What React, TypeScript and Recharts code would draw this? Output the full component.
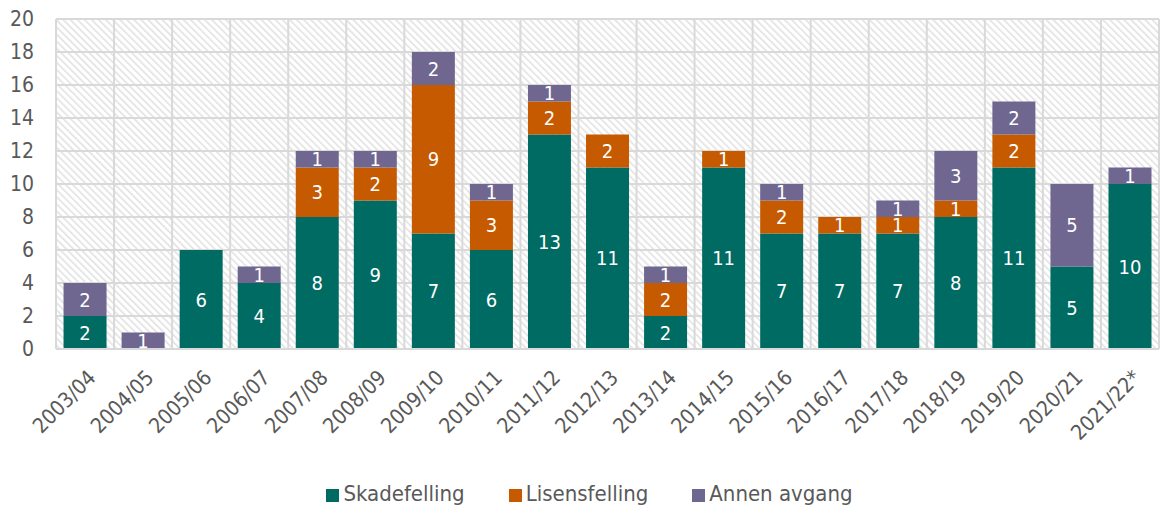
import React from 'react';
import { BarChart, Bar, XAxis, YAxis, CartesianGrid, Legend, LabelList } from 'recharts';

const categories = ['2003/04','2004/05','2005/06','2006/07','2007/08','2008/09','2009/10','2010/11','2011/12','2012/13','2013/14','2014/15','2015/16','2016/17','2017/18','2018/19','2019/20','2020/21','2021/22*'];
const skadefelling = [2,0,6,4,8,9,7,6,13,11,2,11,7,7,7,8,11,5,10];
const lisensfelling = [0,0,0,0,3,2,9,3,2,2,2,1,2,1,1,1,2,0,0];
const annenAvgang = [2,1,0,1,1,1,2,1,1,0,1,0,1,0,1,3,2,5,1];
const yTicks = [0,2,4,6,8,10,12,14,16,18,20];

const seriesNames = ['Skadefelling', 'Lisensfelling', 'Annen avgang'];
const seriesColors = ['#006b63', '#c55a00', '#6f6790'];

const nz = (v: number) => (v === 0 ? null : v);
const data = categories.map((c, i) => ({
  cat: c,
  skade: nz(skadefelling[i]),
  lisens: nz(lisensfelling[i]),
  annen: nz(annenAvgang[i]),
}));

const FONT = '"DejaVu Sans Condensed", "DejaVu Sans", sans-serif';
const TEXT = '#595959';

const XTick = (props: any) => {
  const { x, y, payload } = props;
  const ax = x + 12;
  const ay = y + 22;
  return (
    <text
      x={ax}
      y={ay}
      transform={`rotate(-45, ${ax}, ${ay})`}
      textAnchor="end"
      fill={TEXT}
      fontSize={21}
      fontFamily={FONT}
    >
      {payload.value}
    </text>
  );
};

const LegendContent = () => (
  <div style={{ display: 'flex', justifyContent: 'center', gap: 44, fontFamily: FONT, fontSize: 22, color: TEXT, lineHeight: '24px', paddingLeft: 20, paddingTop: 6 }}>
    {seriesNames.map((n, i) => (
      <div key={n} style={{ display: 'flex', alignItems: 'center' }}>
        <span style={{ display: 'inline-block', width: 13, height: 13, background: seriesColors[i], marginRight: 4, marginTop: 3 }} />
        <span>{n}</span>
      </div>
    ))}
  </div>
);

export default function App() {
  return (
    <div style={{ position: 'absolute', left: 0, top: 0, width: 1160, height: 506, background: '#fff' }}>
      <svg width={0} height={0} style={{ position: 'absolute' }}>
        <defs>
          <pattern id="hatch" patternUnits="userSpaceOnUse" width={5} height={5} patternTransform="rotate(-45)">
            <rect x={0} y={0} width={5} height={5} fill="#ffffff" />
            <line x1={0} y1={0} x2={0} y2={5} stroke="#e0e0e0" strokeWidth={3} />
          </pattern>
        </defs>
      </svg>
      <BarChart
        width={1160}
        height={506}
        data={data}
        margin={{ top: 19, right: 1, left: 0, bottom: 0 }}
        barCategoryGap="13%"
      >
        <CartesianGrid
          fill="url(#hatch)"
          stroke="#d9d9d9"
          strokeWidth={2}
          verticalCoordinatesGenerator={({ offset }: any) =>
            categories.map((_, i) => offset.left + (i * offset.width) / categories.length).concat([offset.left + offset.width])
          }
        />
        <XAxis
          dataKey="cat"
          height={127}
          interval={0}
          tick={<XTick />}
          tickLine={false}
          axisLine={{ stroke: '#d9d9d9', strokeWidth: 2 }}
        />
        <YAxis
          width={56}
          domain={[0, 20]}
          ticks={yTicks}
          interval={0}
          tickLine={false}
          axisLine={false}
          tickSize={0}
          tickMargin={22}
          tick={{ fill: TEXT, fontSize: 21, fontFamily: FONT }}
        />
        <Legend verticalAlign="bottom" height={30} content={<LegendContent />} />
        <Bar dataKey="skade" name="Skadefelling" stackId="a" fill={seriesColors[0]} isAnimationActive={false}>
          <LabelList dataKey="skade" position="center" fill="#ffffff" fontSize={20} fontFamily={FONT} />
        </Bar>
        <Bar dataKey="lisens" name="Lisensfelling" stackId="a" fill={seriesColors[1]} isAnimationActive={false}>
          <LabelList dataKey="lisens" position="center" fill="#ffffff" fontSize={20} fontFamily={FONT} />
        </Bar>
        <Bar dataKey="annen" name="Annen avgang" stackId="a" fill={seriesColors[2]} isAnimationActive={false}>
          <LabelList dataKey="annen" position="center" fill="#ffffff" fontSize={20} fontFamily={FONT} />
        </Bar>
      </BarChart>
    </div>
  );
}
